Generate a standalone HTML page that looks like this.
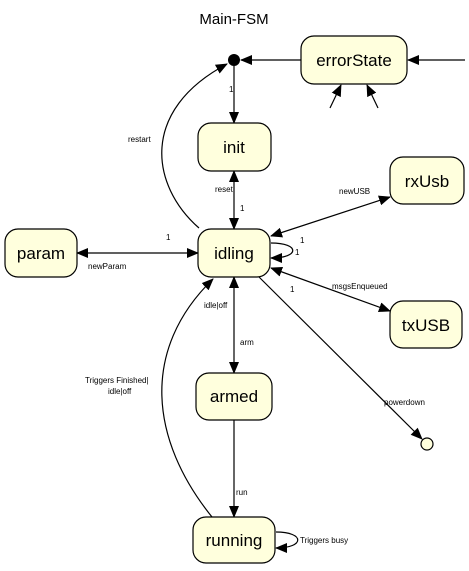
<!DOCTYPE html>
<html><head><style>
body{margin:0;background:#fff;}
svg{display:block;font-family:"Liberation Sans",sans-serif;}
.n{fill:#ffffdd;stroke:#000;stroke-width:1.2}
.t{font-size:17px;text-anchor:middle}
.l{font-size:8px}
path,line{stroke:#000;stroke-width:1.2;fill:none}
</style></head><body>
<svg width="469" height="571" viewBox="0 0 469 571">
<defs><marker id="a" markerWidth="12" markerHeight="10" refX="11" refY="5" orient="auto-start-reverse" markerUnits="userSpaceOnUse"><path d="M0,0 L12,5 L0,10 z" style="fill:#000;stroke:none"/></marker></defs>
<text x="234" y="24" style="font-size:15px;text-anchor:middle">Main-FSM</text>
<!-- edges -->
<line x1="301" y1="60" x2="241" y2="60" marker-end="url(#a)"/>
<line x1="465" y1="60" x2="408" y2="60" marker-end="url(#a)"/>
<line x1="330" y1="108" x2="341" y2="85" marker-end="url(#a)"/>
<line x1="378" y1="108" x2="367" y2="85" marker-end="url(#a)"/>
<line x1="234" y1="66" x2="234" y2="123" marker-end="url(#a)"/>
<path d="M199,228 C150,185 140,110 227,64" marker-end="url(#a)"/>
<line x1="234" y1="171" x2="234" y2="229" marker-start="url(#a)" marker-end="url(#a)"/>
<line x1="271" y1="236" x2="390" y2="197" marker-start="url(#a)" marker-end="url(#a)"/>
<path d="M271,243 C300,243 300,258 271,258" marker-end="url(#a)"/>
<line x1="271" y1="268" x2="390" y2="311" marker-start="url(#a)" marker-end="url(#a)"/>
<line x1="77" y1="253" x2="198" y2="253" marker-start="url(#a)" marker-end="url(#a)"/>
<line x1="234" y1="277" x2="234" y2="373" marker-start="url(#a)" marker-end="url(#a)"/>
<line x1="259" y1="277" x2="422" y2="439" marker-end="url(#a)"/>
<line x1="234" y1="420" x2="234" y2="517" marker-end="url(#a)"/>
<path d="M212,517 C150,440 140,350 213,279" marker-end="url(#a)"/>
<path d="M276,532 C305,532 305,548 276,548" marker-end="url(#a)"/>
<!-- nodes -->
<circle cx="234" cy="60" r="6" fill="#000"/>
<circle cx="427" cy="444" r="6" class="n"/>
<rect class="n" x="301" y="36" width="106" height="48" rx="13"/><text class="t" x="354" y="66">errorState</text>
<rect class="n" x="198" y="123" width="73" height="48" rx="13"/><text class="t" x="234" y="153">init</text>
<rect class="n" x="390" y="157" width="74" height="47" rx="13"/><text class="t" x="427" y="187">rxUsb</text>
<rect class="n" x="198" y="229" width="72" height="48" rx="13"/><text class="t" x="234" y="259">idling</text>
<rect class="n" x="5" y="229" width="72" height="48" rx="13"/><text class="t" x="41" y="259">param</text>
<rect class="n" x="390" y="301" width="72" height="47" rx="13"/><text class="t" x="426" y="331">txUSB</text>
<rect class="n" x="196" y="373" width="76" height="47" rx="13"/><text class="t" x="234" y="402">armed</text>
<rect class="n" x="193" y="517" width="82" height="46" rx="13"/><text class="t" x="234" y="546">running</text>
<!-- labels -->
<text class="l" x="229" y="92">1</text>
<text class="l" x="128" y="142">restart</text>
<text class="l" x="215" y="192">reset</text>
<text class="l" x="240" y="211">1</text>
<text class="l" x="339" y="194">newUSB</text>
<text class="l" x="300" y="243">1</text>
<text class="l" x="295" y="255">1</text>
<text class="l" x="332" y="289">msgsEnqueued</text>
<text class="l" x="290" y="292">1</text>
<text class="l" x="166" y="240">1</text>
<text class="l" x="88" y="269">newParam</text>
<text class="l" x="204" y="308">idle|off</text>
<text class="l" x="240" y="345">arm</text>
<text class="l" x="384" y="405">powerdown</text>
<text class="l" x="236" y="495">run</text>
<text class="l" x="85" y="383">Triggers Finished|</text>
<text class="l" x="108" y="394">idle|off</text>
<text class="l" x="300" y="543">Triggers busy</text>
</svg>
</body></html>
